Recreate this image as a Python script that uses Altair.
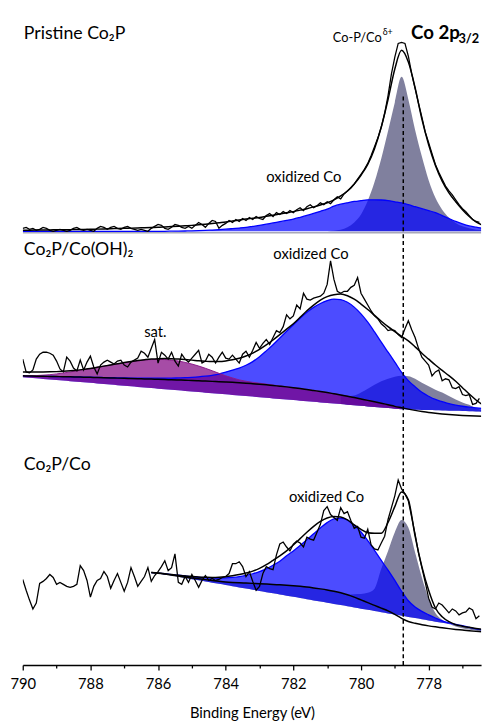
import altair as alt
import pandas as pd

# ---------------- grids (binding energy, eV) ----------------
E_FIT = [790.0, 789.8, 789.6, 789.4, 789.2, 789.0, 788.8, 788.6, 788.4, 788.2,
         788.0, 787.8, 787.6, 787.4, 787.2, 787.0, 786.8, 786.6, 786.4, 786.2,
         786.0, 785.8, 785.6, 785.4, 785.2, 785.0, 784.8, 784.6, 784.4, 784.2,
         784.0, 783.8, 783.6, 783.4, 783.2, 783.0, 782.8, 782.6, 782.4, 782.2,
         782.0, 781.8, 781.6, 781.4, 781.2, 781.0, 780.8, 780.6, 780.4, 780.2,
         780.0, 779.8, 779.6, 779.4, 779.2, 779.0, 778.8, 778.6, 778.4, 778.2,
         778.0, 777.8, 777.6, 777.4, 777.2, 777.0, 776.8, 776.6, 776.4]

E_RAW = [790.0, 789.9, 789.8, 789.7, 789.6, 789.5, 789.4, 789.3, 789.2, 789.1,
         789.0, 788.9, 788.8, 788.7, 788.6, 788.5, 788.4, 788.3, 788.2, 788.1,
         788.0, 787.9, 787.8, 787.7, 787.6, 787.5, 787.4, 787.3, 787.2, 787.1,
         787.0, 786.9, 786.8, 786.7, 786.6, 786.5, 786.4, 786.3, 786.2, 786.1,
         786.0, 785.9, 785.8, 785.7, 785.6, 785.5, 785.4, 785.3, 785.2, 785.1,
         785.0, 784.9, 784.8, 784.7, 784.6, 784.5, 784.4, 784.3, 784.2, 784.1,
         784.0, 783.9, 783.8, 783.7, 783.6, 783.5, 783.4, 783.3, 783.2, 783.1,
         783.0, 782.9, 782.8, 782.7, 782.6, 782.5, 782.4, 782.3, 782.2, 782.1,
         782.0, 781.9, 781.8, 781.7, 781.6, 781.5, 781.4, 781.3, 781.2, 781.1,
         781.0, 780.9, 780.8, 780.7, 780.6, 780.5, 780.4, 780.3, 780.2, 780.1,
         780.0, 779.9, 779.8, 779.7, 779.6, 779.5, 779.4, 779.3, 779.2, 779.1,
         779.0, 778.9, 778.8, 778.7, 778.6, 778.5, 778.4, 778.3, 778.2, 778.1,
         778.0, 777.9, 777.8, 777.7, 777.6, 777.5, 777.4, 777.3, 777.2, 777.1,
         777.0, 776.9, 776.8, 776.7, 776.6, 776.5]

TICKS_MAJOR = [790, 788, 786, 784, 782, 780, 778]
TICKS_MINOR = [789, 787, 785, 783, 781, 779, 777]

N = None

# ---------------- Pristine Co2P (heights above its flat baseline) ----------------
P1_OFFSET = 441
P1_BLUE = [0, 0, 0, 0, 0, 0, 0, 0, 0, 0,
           0, 0, 0, 0, 0, 0, 0, 0, 0, 0,
           0, 0, 0.1, 0.2, 0.3, 0.4, 0.6, 0.9, 1.2, 1.6,
           2.1, 2.7, 3.3, 4.0, 5.0, 6.0, 7.2, 8.5, 9.7, 11.0,
           12.4, 14.2, 16.1, 18.2, 20.3, 22.5, 25.5, 27.5, 29.0, 30.3,
           31.2, 32.0, 32.0, 31.8, 31.2, 30.0, 28.8, 27.0, 25.0, 23.0,
           21.0, 19.0, 16.0, 13.0, 10.0, 7.5, 5.5, 4.2, 3.2]
P1_GREY = [0, 0, 0, 0, 0, 0, 0, 0, 0, 0,
           0, 0, 0, 0, 0, 0, 0, 0, 0, 0,
           0, 0, 0, 0, 0, 0, 0, 0, 0, 0,
           0, 0, 0, 0, 0, 0, 0, 0, 0, 0,
           0, 0, 0, 0, 0, 0, 0.5, 1.5, 4, 9,
           17, 31, 50, 74, 102, 131, 157, 134, 103, 76,
           52, 34, 22, 14, 8.5, 5, 3, 1.5, 1]
P1_ENV = [1.0, 1.1, 1.2, 1.3, 1.4, 1.5, 1.6, 1.7, 1.8, 1.9,
          2.0, 2.2, 2.4, 2.6, 2.8, 3.0, 3.2, 3.4, 3.6, 3.8,
          4.0, 4.4, 4.8, 5.2, 5.6, 6.0, 6.6, 7.2, 7.9, 8.7,
          9.5, 10.5, 11.5, 12.4, 13.2, 14.0, 15.2, 16.4, 17.6, 18.8,
          20.0, 21.5, 23.0, 24.8, 26.8, 29.0, 32.0, 36.0, 41.0, 48.0,
          57, 68, 84, 106, 134, 165, 184, 172, 146, 114,
          88, 67, 51, 39, 30, 22, 15, 9.5, 6]
P1_RAW = [3, 4, 2, 3, 1, 2, 4, 3, 1, 0,
          1, 2, 1, 0, 1, 3, 4, 2, 1, 2,
          1, 0, 3, 5, 4, 2, 4, 5, 3, 2,
          4, 5, 3, 2, 1, 2, 1, 0, 3, 5,
          7, 6, 3, 2, 4, 7, 6, 4, 3, 5,
          3, 6, 9, 7, 4, 8, 11, 10, 3, 6,
          8, 11, 9, 12, 10, 13, 11, 14, 12, 15,
          13, 12, 16, 18, 15, 19, 17, 20, 18, 21,
          19, 22, 24, 21, 25, 27, 24, 26, 29, 27,
          30, 28, 32, 35, 33, 38, 41, 44, 48, 53,
          58, 63, 69, 77, 86, 95, 106, 120, 138, 160,
          177, 191, 192, 191, 178, 160, 145, 130, 116, 101,
          90, 79, 68, 60, 53, 46, 41, 37, 32, 27,
          23, 20, 16, 12, 10, 9]

# ---------------- Co2P/Co(OH)2 ----------------
P2_BG = [294.0, 293.9, 293.7, 293.6, 293.4, 293.3, 293.1, 293.0, 292.8, 292.7,
         292.5, 292.3, 292.1, 291.9, 291.7, 291.5, 291.3, 291.1, 290.9, 290.7,
         290.5, 290.3, 290.0, 289.8, 289.5, 289.3, 289.0, 288.7, 288.4, 288.1,
         287.8, 287.4, 286.9, 286.5, 286.0, 285.5, 284.9, 284.2, 283.5, 282.8,
         282.0, 281.1, 280.1, 279.1, 278.1, 277.0, 275.8, 274.6, 273.3, 271.9,
         270.5, 269.1, 267.7, 266.2, 264.6, 263.0, 261.6, 260.2, 258.9, 257.8,
         256.8, 256.0, 255.3, 254.7, 254.2, 253.8, 253.4, 253.1, 252.9]
P2_BASE = [292.7, 292.1, 291.5, 290.9, 290.4, 289.8, 289.2, 288.6, 288.0, 287.4,
           286.9, 286.3, 285.7, 285.1, 284.5, 283.9, 283.4, 282.8, 282.2, 281.6,
           281.0, 280.4, 279.9, 279.3, 278.7, 278.1, 277.5, 276.9, 276.4, 275.8,
           275.2, 274.6, 274.0, 273.4, 272.9, 272.3, 271.7, 271.1, 270.5, 269.9,
           269.4, 268.8, 268.2, 267.6, 267.0, 266.4, 265.9, 265.3, 264.7, 264.1,
           263.5, 262.9, 262.4, 261.8, 261.2, 260.6, 260.0, 259.8, 259.6, 259.4,
           259.2, 259.0, 258.8, 258.6, 258.4, 258.2, 258.0, 257.8, 257.6]
P2_PURPLE = [0, 0.2, 0.6, 1.1, 1.8, 2.7, 3.8, 5.0, 6.3, 7.6,
             9.0, 10.4, 11.8, 13.2, 14.6, 15.8, 17.0, 18.2, 19.2, 19.9,
             20.2, 20.3, 20.0, 19.3, 18.2, 16.7, 15.0, 13.0, 10.8, 8.5,
             6.2, 4.5, 3.0, 2.0, 1.4, 1.0, 0.7, 0.4, 0.2, 0.1,
             0, 0, 0, 0, 0, 0, 0, 0, 0, 0,
             0, 0, 0, 0, 0, 0, 0, N, N, N,
             N, N, N, N, N, N, N, N, N]
P2_BLUE = [0, 0, 0, 0, 0, 0, 0.1, 0.1, 0.1, 0.1,
           0.2, 0.2, 0.2, 0.3, 0.3, 0.4, 0.5, 0.6, 0.7, 0.9,
           1.1, 1.4, 1.7, 2.1, 2.6, 3.2, 4.0, 5.0, 6.2, 7.7,
           10.0, 12.5, 15.0, 18.3, 22.5, 28.0, 34.5, 41.5, 49.0, 56.5,
           64.0, 71.5, 78.5, 84.5, 89.5, 93.5, 96.3, 97.0, 95.5, 92.0,
           86.5, 79.5, 71.0, 62.0, 53.5, 45.0, 36.0, 29.0, 24.0, 19.5,
           16.5, 14.0, 12.5, 11.0, 10.0, 9.3, 8.8, 8.4, 8.0]
P2_GREY = [N, N, N, N, N, N, N, N, N, N,
           N, N, N, N, N, N, N, N, N, N,
           N, N, N, N, N, N, N, N, N, N,
           N, N, N, N, N, N, N, N, N, N,
           N, N, N, N, N, N, N, 0, 0, 2.1,
           6.5, 11.9, 17.3, 22.3, 26.4, 30.0, 32.4, 33.3, 32.1, 29.2,
           26.7, 24.0, 21.7, 18.8, 15.8, 13.2, 11.1, 7.9, 6.1]
P2_ENV = [298.0, 298.0, 298.0, 298.0, 298.1, 298.3, 298.7, 299.2, 299.8, 300.6,
          301.5, 302.7, 303.9, 305.1, 306.3, 307.5, 308.6, 309.6, 310.4, 311.1,
          311.5, 311.6, 311.4, 311.1, 310.6, 310.0, 309.3, 308.8, 308.5, 308.6,
          309.2, 310.3, 311.9, 314.2, 317.2, 321.0, 325.5, 330.5, 336.0, 341.5,
          347.0, 353.5, 360.2, 366.0, 371.0, 374.5, 376.5, 377.2, 375.5, 372.0,
          367.0, 361.5, 355.5, 349.5, 344.0, 339.0, 334.2, 329.5, 323.5, 317.0,
          311.0, 305.0, 299.5, 294.2, 288.5, 282.0, 275.5, 269.5, 264.5]
P2_RAW = [311, 298, 297, 300, 311, 316, 318, 318, 317, 315,
          309, 301, 298, 313, 309, 302, 299, 310, 300, 308,
          314, 303, 296, 305, 308, 310, 308, 306, 309, 310,
          305, 303, 308, 310, 312, 319, 317, 313, 322, 331,
          307, 318, 315, 311, 318, 309, 304, 316, 311, 308,
          312, 316, 320, 307, 309, 316, 313, 307, 313, 318,
          312, 311, 315, 311, 307, 316, 319, 313, 320, 328,
          322, 327, 331, 326, 333, 340, 338, 344, 356, 352,
          355, 366, 362, 378, 372, 371, 373, 374, 375, 378,
          387, 411, 392, 380, 378, 380, 380, 384, 386, 394,
          378, 372, 366, 360, 355, 352, 347, 344, 340, 341,
          340, 336, 333, 342, 350, 341, 333, 322, 313, 309,
          305, 294, 298, 300, 289, 291, 290, 282, 281, 283,
          275, 274, 275, 265, 266, 271]

# ---------------- Co2P/Co ----------------
P3_BG = [N, N, N, N, N, N, N, N, N, N,
         N, N, N, N, N, N, N, N, N, 94.0,
         93.3, 92.4, 91.4, 90.4, 89.4, 88.5, 87.6, 86.8, 86.0, 85.2,
         84.5, 84.0, 83.6, 83.3, 83.0, 82.7, 82.3, 81.9, 81.5, 81.1,
         80.6, 80.0, 79.3, 78.4, 77.4, 76.3, 75.0, 73.4, 71.4, 69.0,
         66.2, 63.4, 60.6, 57.8, 55.0, 51.5, 47.5, 44.3, 42.4, 41.0,
         39.8, 38.8, 37.9, 37.0, 36.2, 35.5, 34.8, 34.2, 33.7]
P3_BASE = [N, N, N, N, N, N, N, N, N, N,
           N, N, N, N, N, N, N, N, N, 94.5,
           93.3, 92.1, 90.9, 89.7, 88.5, 87.3, 86.1, 84.9, 83.7, 82.5,
           81.3, 80.1, 78.9, 77.7, 76.5, 75.3, 74.1, 72.9, 71.7, 70.5,
           69.3, 68.1, 66.9, 65.7, 64.5, 63.3, 62.1, 60.9, 59.7, 58.5,
           57.3, 56.1, 54.9, 53.7, 52.5, 51.3, 50.1, 48.9, 47.7, 46.5,
           45.3, 44.1, 42.9, 41.7, 40.5, 39.3, 38.1, 36.9, 35.7]
P3_BLUE = [N, N, N, N, N, N, N, N, N, N,
           N, N, N, N, N, N, N, N, N, 0,
           0.2, 0.4, 0.6, 0.9, 1.2, 1.2, 1.6, 2.0, 2.5, 3.2,
           4.0, 5.0, 6.2, 7.8, 9.8, 12.3, 15.5, 19.5, 24.0, 30.0,
           35.4, 41.5, 48.0, 55.0, 62.0, 68.5, 73.5, 76.0, 76.0, 73.0,
           69.0, 63.0, 56.0, 48.5, 41.5, 34.5, 27.5, 21.0, 16.5, 13.5,
           11.2, 9.0, 7.0, 5.8, 5.0, 4.5, 3.5, 2.5, 2.0]
P3_GREY = [N, N, N, N, N, N, N, N, N, N,
           N, N, N, N, N, N, N, N, N, 0,
           0, 0, 0, 0, 0, 0, 0, 0, 0, 0,
           0, 0, 0, 0, 0, 0, 0, 0, 0, 0,
           0, 0, 0, 0, 0, 0, 0, 0, 0, 3,
           6, 10, 17, 40, 61, 83.5, 100, 95.5, 72, 48,
           28, 14, 8, 5, 3, 2, 1.2, 0.6, 0.3]
P3_ENV = [N, N, N, N, N, N, N, N, N, N,
          N, N, N, N, N, N, N, N, N, 94.0,
          93.5, 92.8, 92.0, 91.3, 90.6, 90.0, 89.5, 89.2, 89.0, 89.2,
          89.8, 90.8, 92.0, 93.5, 95.5, 98.3, 102.0, 106.5, 111.0, 116.0,
          122.0, 128.5, 135.0, 141.0, 146.0, 149.5, 151.0, 150.5, 147.5, 142.5,
          138.0, 134.5, 134.0, 134.0, 145.0, 161.0, 176.0, 168.0, 131.0, 100.0,
          76.0, 58.0, 49.0, 44.0, 41.0, 39.5, 38.3, 37.2, 36.2]
P3_RAW = [87, 76, 66, 57, 63, 83, 85, 88, 92, 89,
          82, 84, 82, 80, 79, 80, 82, 101, 96, 86,
          69, 80, 86, 88, 95, 90, 78, 86, 93, 84,
          75, 84, 99, 90, 80, 85, 90, 99, 85, 91,
          95, 100, 106, 96, 99, 113, 84, 82, 90, 84,
          92, 86, 79, 86, 91, 86, 88, 86, 87, 89,
          90, 93, 103, 103, 105, 100, 90, 95, 85, 76,
          80, 93, 100, 98, 97, 112, 123, 125, 120, 116,
          123, 126, 124, 120, 130, 128, 127, 135, 143, 157,
          161, 153, 150, 147, 160, 154, 156, 147, 139, 141,
          130, 129, 138, 122, 118, 117, 124, 131, 148, 160,
          172, 188, 179, 174, 167, 150, 133, 114, 99, 84,
          68, 59, 57, 63, 61, 57, 53, 57, 55, 51,
          53, 54, 58, 56, 47, 50]

# annotation positions (data coordinates)
DASH_E = 778.75
DASH_TOP = 580

for name, arr, n in [("P1_BLUE", P1_BLUE, 69), ("P1_GREY", P1_GREY, 69), ("P1_ENV", P1_ENV, 69),
                     ("P1_RAW", P1_RAW, 136), ("P2_BG", P2_BG, 69), ("P2_BASE", P2_BASE, 69),
                     ("P2_PURPLE", P2_PURPLE, 69), ("P2_BLUE", P2_BLUE, 69), ("P2_GREY", P2_GREY, 69),
                     ("P2_ENV", P2_ENV, 69), ("P2_RAW", P2_RAW, 136), ("P3_BG", P3_BG, 69),
                     ("P3_BASE", P3_BASE, 69), ("P3_BLUE", P3_BLUE, 69), ("P3_GREY", P3_GREY, 69),
                     ("P3_ENV", P3_ENV, 69), ("P3_RAW", P3_RAW, 136), ("E_FIT", E_FIT, 69), ("E_RAW", E_RAW, 136)]:
    assert len(arr) == n, f"{name} has {len(arr)} values, expected {n}"

# ---------------- helpers ----------------
XS = alt.Scale(domain=[790, 776.45], nice=False, zero=False)
YS = alt.Scale(domain=[0, 662], nice=False, zero=False)
FONT = "Lato"

AXIS = alt.Axis(
    values=TICKS_MAJOR + TICKS_MINOR,
    labelExpr="datum.value % 2 === 0 ? datum.label : ''",
    format="d",
    tickSize={"condition": {"test": "datum.value % 2 === 0", "value": 5}, "value": 3},
    tickColor="black", tickWidth=1.3,
    domainColor="black", domainWidth=1.3,
    labelFont=FONT, labelFontSize=15, labelColor="black", labelPadding=7,
    labelOverlap=False, labelFlush=False,
    titleFont=FONT, titleFontSize=15, titleFontWeight="normal", titleColor="black",
    titlePadding=14, grid=False, orient="bottom",
)
TITLE = "Binding Energy (eV)"


def add(a, b):
    return [None if (x is None or y is None) else x + y for x, y in zip(a, b)]


def shift(a, k):
    return [None if x is None else x + k for x in a]


def xenc():
    # identical x encoding in every layer, so the shared axis is never disabled
    return alt.X("E:Q", scale=XS, axis=AXIS, title=TITLE)


def yenc(field):
    return alt.Y(field, scale=YS, axis=None)


def area(E, top, bot, color, opacity):
    df = pd.DataFrame({"E": E, "top": top, "bot": bot}).dropna()
    return alt.Chart(df).mark_area(color=color, opacity=opacity, interpolate="monotone", clip=True).encode(
        x=xenc(), y=yenc("top:Q"), y2="bot:Q")


def line(E, y, color, width, interp="monotone"):
    df = pd.DataFrame({"E": E, "y": y}).dropna()
    return alt.Chart(df).mark_line(color=color, strokeWidth=width, interpolate=interp, clip=True).encode(
        x=xenc(), y=yenc("y:Q"))


def label(txt, E, y, size, align="left", weight="normal"):
    df = pd.DataFrame({"E": [E], "y": [y], "t": [txt]})
    return alt.Chart(df).mark_text(align=align, baseline="alphabetic", font=FONT, fontSize=size,
                                   fontWeight=weight, color="black").encode(
        x=xenc(), y=yenc("y:Q"), text="t:N")


BLUE, GREY, PURPLE = "#0000ff", "#3c3c6a", "#800080"

layers = []

# ----- panel 1
p1_zero = [P1_OFFSET for _ in E_FIT]
layers.append(line(E_FIT, shift(p1_zero, -1.5), "#a8a8b8", 1.5, "linear"))
layers.append(area(E_FIT, shift(P1_GREY, P1_OFFSET), p1_zero, GREY, 0.65))
layers.append(area(E_FIT, shift(P1_BLUE, P1_OFFSET), p1_zero, BLUE, 0.7))
layers.append(line(E_FIT, shift(P1_BLUE, P1_OFFSET), BLUE, 1.3))
layers.append(line(E_FIT, shift(P1_ENV, P1_OFFSET), "black", 1.5))
layers.append(line(E_RAW, shift(P1_RAW, P1_OFFSET), "black", 1.3, "linear"))

# ----- panel 2
layers.append(area(E_FIT, add(P2_BG, P2_GREY), P2_BASE, GREY, 0.65))
layers.append(area(E_FIT, add(P2_BG, P2_BLUE), P2_BASE, BLUE, 0.7))
layers.append(area(E_FIT, add(P2_BG, P2_PURPLE), P2_BASE, PURPLE, 0.7))
layers.append(line(E_FIT, add(P2_BG, P2_BLUE), BLUE, 1.3))
layers.append(line(E_FIT, add(P2_BG, P2_PURPLE), "#8b1a8b", 1.0))
layers.append(line(E_FIT, P2_BG, "black", 1.5))
layers.append(line(E_FIT, P2_ENV, "black", 1.5))
layers.append(line(E_RAW, P2_RAW, "black", 1.3, "linear"))

# ----- panel 3
layers.append(area(E_FIT, add(P3_BG, P3_GREY), P3_BASE, GREY, 0.65))
layers.append(area(E_FIT, add(P3_BG, P3_BLUE), P3_BASE, BLUE, 0.7))
layers.append(line(E_FIT, add(P3_BG, P3_BLUE), BLUE, 1.3))
layers.append(line(E_FIT, P3_BG, "black", 1.5))
layers.append(line(E_FIT, P3_ENV, "black", 1.5))
layers.append(line(E_RAW, P3_RAW, "black", 1.3, "linear"))

# ----- dashed reference line
layers.append(alt.Chart(pd.DataFrame({"E": [DASH_E], "y": [0], "y2": [DASH_TOP]})).mark_rule(
    color="black", strokeWidth=1.5, strokeDash=[4, 3]).encode(
    x=xenc(), y=yenc("y:Q"), y2="y2:Q"))

# ----- labels
layers += [
    label("Pristine Co\u2082P", 789.97, 637, 18),
    label("Co\u2082P/Co(OH)\u2082", 789.97, 417, 18),
    label("Co\u2082P/Co", 789.97, 198, 18),
    label("Co 2p", 778.52, 637, 19, weight="bold"),
    label("3/2", 777.12, 632, 13, weight="bold"),
    label("Co-P/Co", 779.39, 633, 13, align="right"),
    label("\u03b4+", 779.36, 641, 9),
    label("oxidized Co", 781.69, 491, 15, align="center"),
    label("oxidized Co", 781.48, 413, 15, align="center"),
    label("sat.", 786.08, 334, 15, align="center"),
    label("oxidized Co", 781.02, 166, 15, align="center"),
]

chart = alt.layer(*layers).properties(
    width=466, height=662,
    autosize=alt.AutoSizeParams(type="none"),
    padding={"left": 15, "top": 0, "right": 4, "bottom": 57},
).configure_view(stroke=None)

chart.save("out.html", embed_options={"renderer": "svg", "actions": False})
